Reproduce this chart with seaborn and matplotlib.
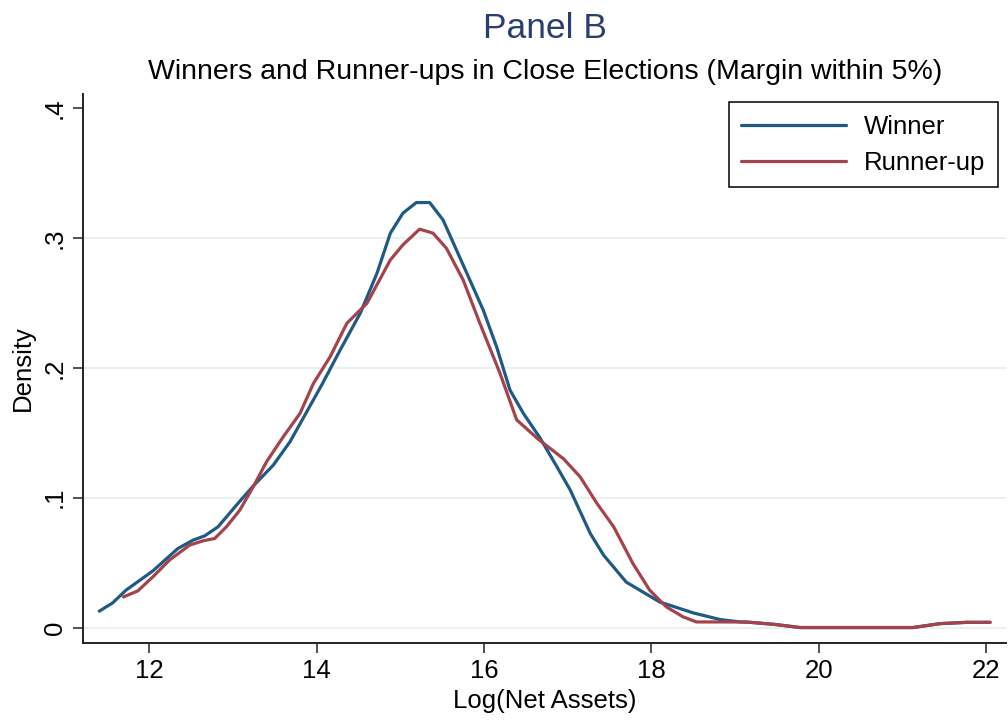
import pandas as pd
import matplotlib
matplotlib.use("Agg")
import matplotlib.pyplot as plt
import seaborn as sns

# density curves (Log net assets vs density)
winner_x = [11.40, 11.56, 11.72, 12.04, 12.34, 12.52, 12.66, 12.82, 13.04, 13.24,
            13.48, 13.68, 13.87, 14.07, 14.28, 14.52, 14.72, 14.88, 15.03, 15.19,
            15.35, 15.51, 15.67, 15.83, 15.99, 16.15, 16.31, 16.47, 16.67, 16.87,
            17.03, 17.27, 17.43, 17.70, 18.10, 18.50, 18.82, 19.06, 19.18, 19.46,
            19.78, 21.13, 21.45, 21.77, 22.05]
winner_y = [0.0126, 0.019, 0.0288, 0.0436, 0.0609, 0.0673, 0.0706, 0.0776, 0.0943, 0.109,
            0.1251, 0.1431, 0.165, 0.1881, 0.2138, 0.2421, 0.2729, 0.3038, 0.3192, 0.3274,
            0.3274, 0.314, 0.2909, 0.2678, 0.2446, 0.2163, 0.183, 0.165, 0.146, 0.124,
            0.106, 0.0725, 0.0557, 0.035, 0.0197, 0.0113, 0.0062, 0.0043, 0.004, 0.0025,
            0.0, 0.0, 0.003, 0.004, 0.004]

runner_x = [11.69, 11.86, 12.04, 12.24, 12.48, 12.64, 12.78, 12.92, 13.08, 13.24,
            13.40, 13.60, 13.80, 13.96, 14.16, 14.36, 14.60, 14.88, 15.03, 15.23,
            15.39, 15.55, 15.75, 15.95, 16.19, 16.39, 16.65, 16.95, 17.15, 17.35,
            17.55, 17.78, 17.98, 18.18, 18.38, 18.54, 18.82, 19.14, 19.46, 19.78,
            21.13, 21.45, 21.77, 22.05]
runner_y = [0.0236, 0.0282, 0.039, 0.052, 0.0635, 0.0668, 0.0686, 0.0776, 0.0904, 0.1084,
            0.1277, 0.147, 0.165, 0.188, 0.2086, 0.2344, 0.2498, 0.2832, 0.2948, 0.3069,
            0.3038, 0.2922, 0.2678, 0.2344, 0.196, 0.16, 0.145, 0.130, 0.116, 0.0956,
            0.0776, 0.0493, 0.0288, 0.0159, 0.0082, 0.0043, 0.0043, 0.0043, 0.0025, 0.0,
            0.0, 0.003, 0.004, 0.004]

x_ticks = [12, 14, 16, 18, 20, 22]
y_ticks = [0, 0.1, 0.2, 0.3, 0.4]
y_tick_labels = ["0", ".1", ".2", ".3", ".4"]

df = pd.concat([
    pd.DataFrame({"x": winner_x, "y": winner_y, "group": "Winner"}),
    pd.DataFrame({"x": runner_x, "y": runner_y, "group": "Runner-up"}),
])

sns.set_style("white")
plt.rcParams["font.family"] = ["Liberation Sans", "DejaVu Sans"]
plt.rcParams["text.color"] = "black"
plt.rcParams["axes.labelcolor"] = "black"
plt.rcParams["xtick.color"] = "black"
plt.rcParams["ytick.color"] = "black"

fig = plt.figure(figsize=(10.08, 7.21), dpi=100)
ax = fig.add_axes([0.0823, 0.1082, 0.9157, 0.7614])

palette = {"Winner": "#1f5a85", "Runner-up": "#a4434b"}
sns.lineplot(data=df, x="x", y="y", hue="group", palette=palette, estimator=None,
             sort=False, linewidth=2.3, ax=ax)

ax.set_xlim(11.205, 22.24)
ax.set_ylim(-0.0119, 0.411)
ax.set_xticks(x_ticks)
ax.set_yticks(y_ticks)
ax.set_yticklabels(y_tick_labels)

ax.grid(axis="y", color="#e8f1f1", linewidth=1.5)
ax.yaxis.get_gridlines()[-1].set_visible(False)
ax.set_axisbelow(True)

for side in ["top", "right"]:
    ax.spines[side].set_visible(False)
for side in ["left", "bottom"]:
    ax.spines[side].set_color("#222222")
    ax.spines[side].set_linewidth(1.4)

ax.tick_params(axis="both", direction="out", length=7.5, width=1.1, color="#222222",
               labelsize=18.5, pad=4, left=True, bottom=True)
ax.tick_params(axis="y", labelrotation=90)
for lbl in ax.get_yticklabels():
    lbl.set_verticalalignment("center")

ax.set_xlabel("Log(Net Assets)", fontsize=18.5, labelpad=4)
ax.set_ylabel("Density", fontsize=18.5)
ax.yaxis.set_label_coords(-0.052, 0.5)

sns.move_legend(ax, "upper right", bbox_to_anchor=(1.0, 1.0), title=None,
                frameon=True, fancybox=False, framealpha=1, edgecolor="black",
                fontsize=18.5, handlelength=4.1, handletextpad=0.7,
                labelspacing=0.5, borderpad=0.47, borderaxespad=0.33)
ax.get_legend().get_frame().set_linewidth(1.1)

fig.text(0.5405, 0.961, "Panel B", ha="center", va="center", fontsize=25.5, color="#2b3f6c")
fig.text(0.5405, 0.900, "Winners and Runner-ups in Close Elections (Margin within 5%)",
         ha="center", va="center", fontsize=20.5, color="black")

fig.savefig("out.png", dpi=100)
